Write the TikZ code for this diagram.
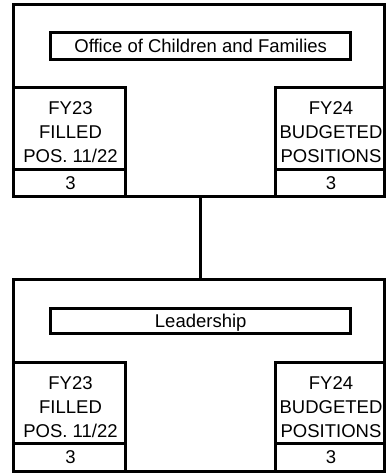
\documentclass[tikz,border=0pt]{standalone}
\usepackage{fontspec}
\setmainfont{Liberation Sans}
\begin{document}
\begin{tikzpicture}[x=1pt,y=-1pt,
  box/.style={draw=black,line width=3pt,rectangle,inner sep=0pt,outer sep=0pt,fill=white},
  lbl/.style={font=\fontsize{18.5}{24}\selectfont,align=center,inner sep=0pt},
  one/.style={font=\fontsize{18.5}{24}\selectfont,inner sep=0pt,text height=13.2pt,text depth=0pt}]
\useasboundingbox[fill=white] (0,0) rectangle (388,473);
% ---------- top unit ----------
\node[box,minimum width=370.9pt,minimum height=192pt] (aouter) at (199.25,100.7) {};
\node[box,minimum width=300pt,minimum height=27pt] (atitle) at (200.7,45.8) {};
\node[one] (atitlet) at (atitle.center) {Office of Children and Families};
\node[box,minimum width=111.2pt,minimum height=81pt] (al) at (69.4,128.5) {};
\node[box,minimum width=111.2pt,minimum height=27.7pt] (aln) at (69.4,182.85) {};
\node[box,minimum width=109.4pt,minimum height=81pt] (ar) at (330,128.5) {};
\node[box,minimum width=109.4pt,minimum height=27.7pt] (arn) at (330,182.85) {};
\node[lbl] (alt) at (70.5,132.6) {FY23\\FILLED\\POS. 11/22};
\node[lbl] (art) at (331,132.6) {FY24\\BUDGETED\\POSITIONS};
\node[one] (alnt) at (70.5,182.6) {3};
\node[one] (arnt) at (331,182.6) {3};
% ---------- bottom unit ----------
\begin{scope}[yshift=-274.6pt]
\node[box,minimum width=370.9pt,minimum height=192pt] (bouter) at (199.25,100.7) {};
\node[box,minimum width=300pt,minimum height=25.5pt] (btitle) at (200.7,46.3) {};
\node[one] (btitlet) at (btitle.center) {Leadership};
\node[box,minimum width=111.2pt,minimum height=81pt] (bl) at (69.4,128.5) {};
\node[box,minimum width=111.2pt,minimum height=27.7pt] (bln) at (69.4,182.85) {};
\node[box,minimum width=109.4pt,minimum height=81pt] (br) at (330,128.5) {};
\node[box,minimum width=109.4pt,minimum height=27.7pt] (brn) at (330,182.85) {};
\node[lbl] (blt) at (70.5,132.6) {FY23\\FILLED\\POS. 11/22};
\node[lbl] (brt) at (331,132.6) {FY24\\BUDGETED\\POSITIONS};
\node[one] (blnt) at (70.5,182.6) {3};
\node[one] (brnt) at (331,182.6) {3};
\end{scope}
% ---------- connector ----------
\draw[line width=3pt] (aouter.south -| 200.7,0) -- (bouter.north -| 200.7,0);
\end{tikzpicture}
\end{document}
